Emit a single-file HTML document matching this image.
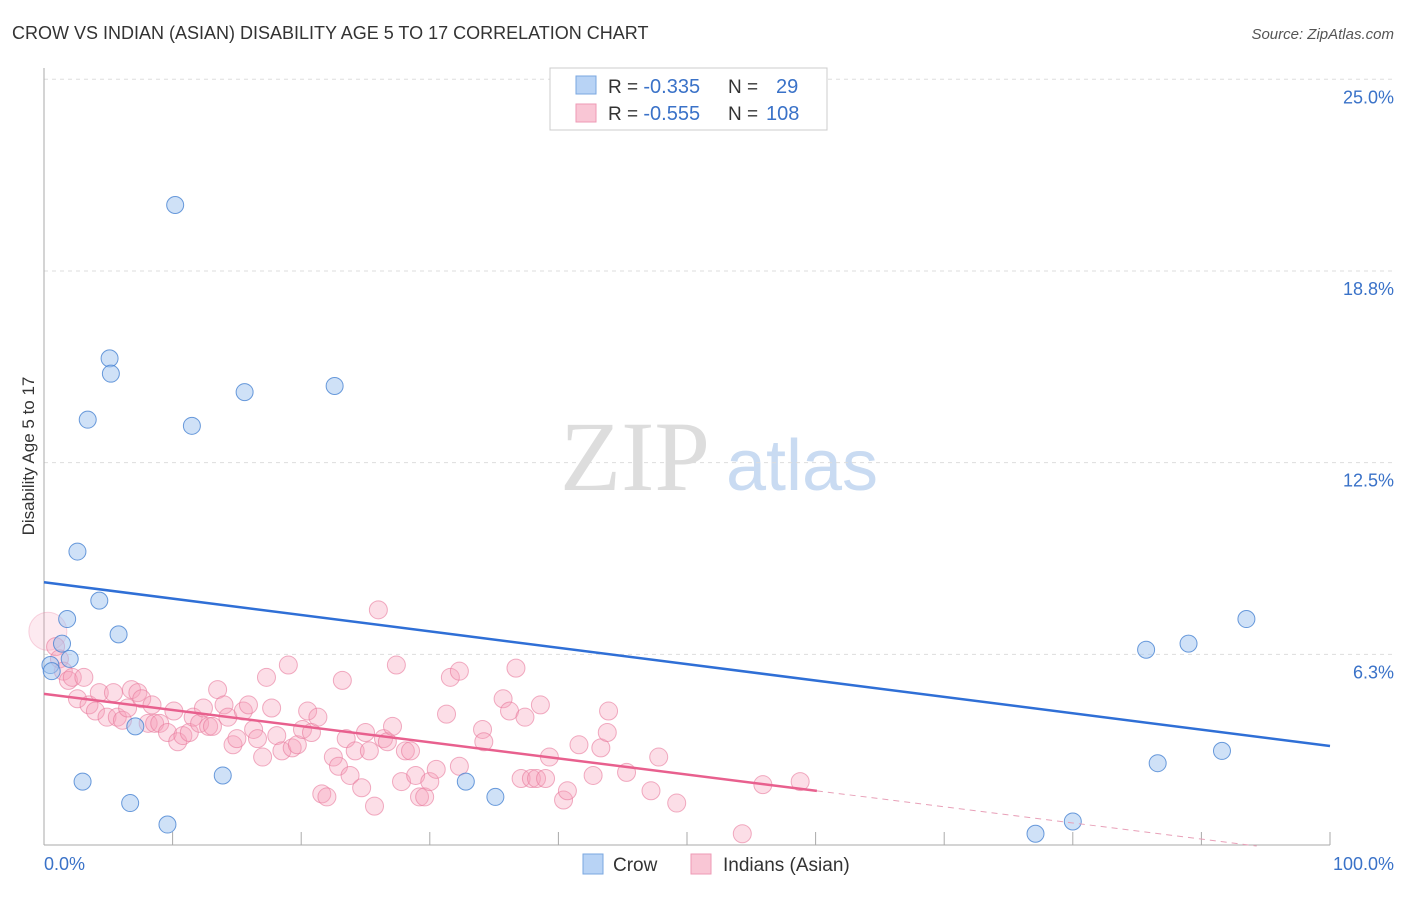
<!DOCTYPE html>
<html><head><meta charset="utf-8"><style>
body{margin:0;background:#fff;font-family:"Liberation Sans",sans-serif;}
svg text{font-family:"Liberation Sans",sans-serif;}
</style></head><body>
<svg id="chart" width="1406" height="892" xmlns="http://www.w3.org/2000/svg">
<text x="12" y="39" font-size="18" fill="#333">CROW VS INDIAN (ASIAN) DISABILITY AGE 5 TO 17 CORRELATION CHART</text>
<text x="1394" y="39" font-size="15" fill="#555" font-style="italic" text-anchor="end">Source: ZipAtlas.com</text>
<text x="635" y="490" font-size="100" fill="#ddd" style="font-family:'Liberation Serif',serif" text-anchor="middle">ZIP</text>
<text x="802" y="490" font-size="72" fill="#c9dbf2" text-anchor="middle">atlas</text>
<g id="grid"></g>
<g id="axes"></g>
<g id="pts"></g>
<g id="lines"></g>
<text transform="translate(34,456) rotate(-90)" font-size="17" fill="#333" text-anchor="middle">Disability Age 5 to 17</text>
<text x="44" y="870" font-size="18" fill="#3a72c8">0.0%</text>
<text x="1394" y="870" font-size="18" fill="#3a72c8" text-anchor="end">100.0%</text>
<g>
<rect x="550" y="68" width="277" height="62" fill="#fff" stroke="#ccc"/>
<rect x="576" y="76" width="20" height="18" fill="#b8d3f5" stroke="#7aa7e0"/>
<rect x="576" y="104" width="20" height="18" fill="#f9c6d5" stroke="#ee9ab5"/>
<text x="608" y="93" font-size="19" fill="#333">R = <tspan font-size="20" fill="#3a72c8">-0.335</tspan><tspan x="728">N = </tspan><tspan x="776" font-size="20" fill="#3a72c8">29</tspan></text>
<text x="608" y="120" font-size="19" fill="#333">R = <tspan font-size="20" fill="#3a72c8">-0.555</tspan><tspan x="728">N = </tspan><tspan x="766" font-size="20" fill="#3a72c8">108</tspan></text>
</g>
<g>
<rect x="583" y="854" width="20" height="20" fill="#b8d3f5" stroke="#7aa7e0"/>
<text x="613" y="871" font-size="19" fill="#333">Crow</text>
<rect x="691" y="854" width="20" height="20" fill="#f9c6d5" stroke="#ee9ab5"/>
<text x="723" y="871" font-size="19" fill="#333">Indians (Asian)</text>
</g>
</svg>
<script>
const yTicks=[25.0,18.8,12.5,6.3];
const yTickVals=[25,18.75,12.5,6.25];
const crowX=[10.2,5.1,5.2,3.4,11.5,15.6,22.6,2.6,4.3,1.8,5.8,1.4,2.0,0.5,0.6,7.1,3.0,6.7,9.6,13.9,32.8,35.1,85.7,89.0,93.5,86.6,91.6,77.1,80.0];
const crowY=[20.9,15.9,15.4,13.9,13.7,14.8,15.0,9.6,8.0,7.4,6.9,6.6,6.1,5.9,5.7,3.9,2.1,1.4,0.7,2.3,2.1,1.6,6.4,6.6,7.4,2.7,3.1,0.4,0.8];
const indX=[0.3,0.9,1.2,1.5,1.9,2.2,3.1,2.6,3.5,4.0,4.3,4.9,5.4,5.7,6.1,6.5,6.8,7.3,7.6,8.1,8.4,8.6,9.0,9.6,10.1,10.4,10.8,11.3,11.6,12.1,12.4,12.8,13.1,13.5,14.0,14.3,14.7,15.0,15.5,15.9,16.3,16.6,17.0,17.3,17.7,18.1,18.5,19.0,19.3,19.7,20.1,20.5,20.8,21.3,21.6,22.0,22.5,22.9,23.2,23.5,23.8,24.2,24.7,25.0,25.3,25.7,26.0,26.4,26.7,27.1,27.4,27.8,28.1,28.5,28.9,29.2,29.6,30.0,30.5,31.3,31.6,32.3,32.3,34.1,34.2,35.7,36.2,36.7,37.1,37.4,37.9,38.3,38.6,39.0,39.3,40.4,40.7,41.6,42.7,43.3,43.8,43.9,45.3,47.2,47.8,49.2,54.3,55.9,58.8];
const indY=[7.0,6.5,6.1,5.7,5.4,5.5,5.5,4.8,4.6,4.4,5.0,4.2,5.0,4.2,4.1,4.5,5.1,5.0,4.8,4.0,4.6,4.0,4.0,3.7,4.4,3.4,3.6,3.7,4.2,4.0,4.5,3.9,3.9,5.1,4.6,4.2,3.3,3.5,4.4,4.6,3.8,3.5,2.9,5.5,4.5,3.6,3.1,5.9,3.2,3.3,3.8,4.4,3.7,4.2,1.7,1.6,2.9,2.6,5.4,3.5,2.3,3.1,1.9,3.7,3.1,1.3,7.7,3.5,3.4,3.9,5.9,2.1,3.1,3.1,2.3,1.6,1.6,2.1,2.5,4.3,5.5,5.7,2.6,3.8,3.4,4.8,4.4,5.8,2.2,4.2,2.2,2.2,4.6,2.2,2.9,1.5,1.8,3.3,2.3,3.2,3.7,4.4,2.4,1.8,2.9,1.4,0.4,2.0,2.1];
const crowFit=[8.6,3.26];
const indFit=[4.96,-0.3]; const indSolidEnd=60.1;
const NS='http://www.w3.org/2000/svg';
const X0=44,X1=1330,Y0=846,PPY=30.67;
const sx=v=>X0+(X1-X0)*v/100, sy=v=>Y0-v*PPY;
function mk(t,a,p){const e=document.createElementNS(NS,t);for(const k in a)e.setAttribute(k,a[k]);p.appendChild(e);return e;}
const grid=document.getElementById('grid'),axes=document.getElementById('axes'),pts=document.getElementById('pts'),lines=document.getElementById('lines');
yTickVals.forEach((v,i)=>{
 const l=mk('line',{x1:X0,x2:1394,y1:sy(v),y2:sy(v),stroke:'#ddd','stroke-dasharray':'4,4'},grid);
 
 
 const t=mk('text',{x:1394,y:sy(v)+24,'font-size':18,fill:'#3a72c8','text-anchor':'end'},grid);
 t.textContent=yTicks[i].toFixed(1)+'%';
 
 
});
const ya=mk('line',{x1:X0,x2:X0,y1:68,y2:845,stroke:'#aaa'},axes);


const xa=mk('line',{x1:X0,x2:X1,y1:845,y2:845,stroke:'#aaa'},axes);


for(let i=1;i<=10;i++){const t=mk('line',{x1:sx(i*10),x2:sx(i*10),y1:832,y2:845,stroke:'#aaa'},axes);
 
 }
indX.forEach((x,i)=>{const c=mk('circle',{cx:sx(x),cy:sy(indY[i]),r:i==0?19:9,fill:i==0?'rgba(247,160,185,0.22)':'rgba(247,160,185,0.35)',stroke:i==0?'rgba(232,120,155,0.3)':'rgba(232,120,155,0.6)','stroke-width':1},pts);
 
 });
crowX.forEach((x,i)=>{const c=mk('circle',{cx:sx(x),cy:sy(crowY[i]),r:8.5,fill:'rgba(160,195,240,0.5)',stroke:'rgba(70,130,210,0.8)','stroke-width':1},pts);
 
 });
const cl=mk('line',{x1:sx(0),y1:sy(crowFit[0]),x2:sx(100),y2:sy(crowFit[1]),stroke:'#2f6fd6','stroke-width':2.5},lines);


const iy=x=>indFit[0]+(indFit[1]-indFit[0])*x/100;
const il=mk('line',{x1:sx(0),y1:sy(iy(0)),x2:sx(indSolidEnd),y2:sy(iy(indSolidEnd)),stroke:'#e8608e','stroke-width':2.5},lines);


const xz=indFit[0]/(indFit[0]-indFit[1])*100;
const idl=mk('line',{x1:sx(indSolidEnd),y1:sy(iy(indSolidEnd)),x2:sx(Math.min(95,xz)),y2:sy(iy(Math.min(95,xz))),stroke:'#e8a0b8','stroke-width':1,'stroke-dasharray':'6,5'},lines);


</script>
</body></html>
